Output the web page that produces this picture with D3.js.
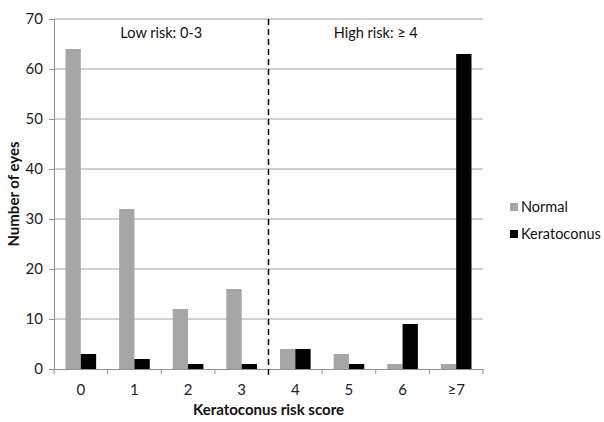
<!DOCTYPE html>
<html><head><meta charset="utf-8">
<script src="https://cdn.jsdelivr.net/npm/d3@7"></script>
<style>body{margin:0;background:#fff;} text{font-family:Lato,"Open Sans",sans-serif;}</style>
</head><body><svg id="c" width="604" height="422"></svg>
<script>
const categories = ["0","1","2","3","4","5","6","≥7"];
const normal = [64,32,12,16,4,3,1,1];
const keratoconus = [3,2,1,1,4,1,9,63];
const seriesNames = ["Normal","Keratoconus"];
const yTicks = [0,10,20,30,40,50,60,70];

const svg = d3.select("#c");
const L=54, R=483, T=19, B=369;
const x = d3.scaleBand().domain(categories).range([L,R]).paddingInner(0).paddingOuter(0);
const xs = d3.scaleBand().domain(seriesNames).range([0,x.bandwidth()]).paddingInner(0).paddingOuter(0.75);
const y = d3.scaleLinear().domain([0,70]).range([B,T]);
const colors = {"Normal":"#a6a6a6","Keratoconus":"#000000"};

// gridlines
svg.append("g").selectAll("line").data(yTicks.filter(d=>d>0)).join("line")
  .attr("x1",L).attr("x2",R).attr("y1",d=>y(d)).attr("y2",d=>y(d))
  .attr("stroke","#a0a0a0").attr("stroke-width",1);

// y axis
const ya = svg.append("g").attr("transform",`translate(${L},0)`)
  .call(d3.axisLeft(y).tickValues(yTicks).tickSize(5).tickPadding(6));
ya.select(".domain").attr("stroke","#909090");
ya.selectAll(".tick line").attr("stroke","#909090");
ya.selectAll("text").attr("font-size",15).attr("fill","#222").style("font-family","Lato,sans-serif");

// x axis
const xa = svg.append("g").attr("transform",`translate(0,${B})`)
  .call(d3.axisBottom(x).tickSize(0).tickPadding(15));
xa.select(".domain").attr("stroke","#909090");
xa.selectAll("text").attr("font-size",15).attr("fill","#222").style("font-family","Lato,sans-serif");
// boundary ticks
svg.append("g").selectAll("line").data(categories.concat(["end"])).join("line")
  .attr("x1",(d,i)=>L+i*x.step()).attr("x2",(d,i)=>L+i*x.step())
  .attr("y1",B).attr("y2",B+5).attr("stroke","#909090");

// bars
const data = categories.map((c,i)=>({c, vals:[{s:"Normal",v:normal[i]},{s:"Keratoconus",v:keratoconus[i]}]}));
svg.append("g").selectAll("g").data(data).join("g")
  .attr("transform",d=>`translate(${x(d.c)},0)`)
  .selectAll("rect").data(d=>d.vals).join("rect")
  .attr("x",d=>xs(d.s)).attr("width",xs.bandwidth())
  .attr("y",d=>y(d.v)).attr("height",d=>B-y(d.v))
  .attr("fill",d=>colors[d.s]);

// dashed divider
svg.append("line").attr("x1",x("4")).attr("x2",x("4")).attr("y1",T).attr("y2",B+6)
  .attr("stroke","#000").attr("stroke-width",1.5).attr("stroke-dasharray","6,4");

// annotations
svg.append("text").attr("x",(x("0")+x("4"))/2).attr("y",38).attr("text-anchor","middle")
  .attr("font-size",14.5).attr("fill","#111").text("Low risk: 0-3");
svg.append("text").attr("x",(x("4")+R)/2).attr("y",38).attr("text-anchor","middle")
  .attr("font-size",14.5).attr("fill","#111").text("High risk: ≥ 4");

// axis titles
svg.append("text").attr("transform",`translate(19,${(T+B)/2}) rotate(-90)`)
  .attr("text-anchor","middle").attr("font-size",15).attr("font-weight","bold").attr("fill","#111")
  .text("Number of eyes");
svg.append("text").attr("x",(L+R)/2).attr("y",415).attr("text-anchor","middle")
  .attr("font-size",15).attr("font-weight","bold").attr("fill","#111")
  .text("Keratoconus risk score");

// legend
const lg = svg.append("g").selectAll("g").data(seriesNames).join("g")
  .attr("transform",(d,i)=>`translate(510,${203+i*27})`);
lg.append("rect").attr("width",8).attr("height",8).attr("fill",d=>colors[d]);
lg.append("text").attr("x",11).attr("y",9).attr("font-size",14.5).attr("fill","#111").text(d=>d);
</script></body></html>
